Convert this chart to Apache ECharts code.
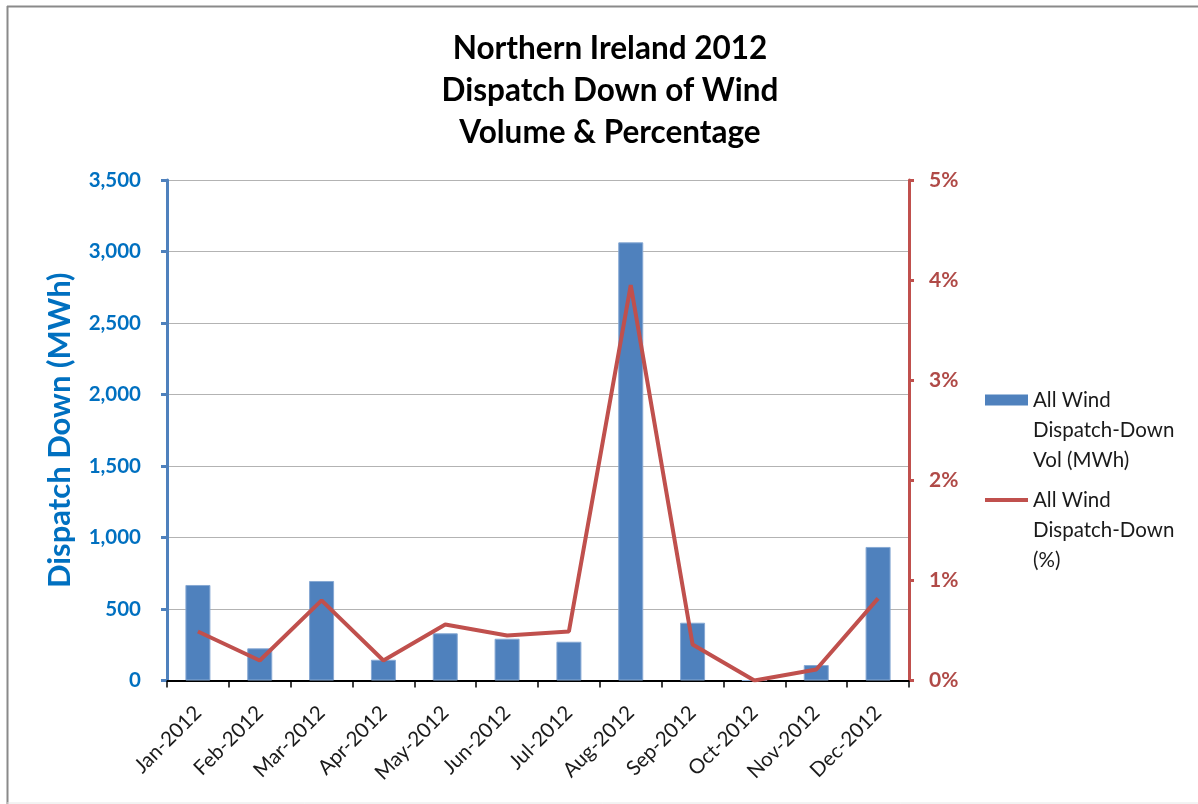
<!DOCTYPE html>
<html>
<head>
<meta charset="utf-8">
<script src="https://cdn.jsdelivr.net/npm/echarts@6/dist/echarts.min.js"></script>
<style>
  html, body { margin: 0; padding: 0; background: #fff; }
  #chart { width: 1198px; height: 804px; }
</style>
</head>
<body>
<div id="chart"></div>
<script>
// Monthly dispatch-down of wind, Northern Ireland 2012
const months = ['Jan-2012', 'Feb-2012', 'Mar-2012', 'Apr-2012', 'May-2012', 'Jun-2012',
                'Jul-2012', 'Aug-2012', 'Sep-2012', 'Oct-2012', 'Nov-2012', 'Dec-2012'];
const volumeMWh = [668, 225, 696, 145, 330, 292, 271, 3064, 404, 0, 108, 934];
const percentDown = [0.49, 0.20, 0.80, 0.20, 0.56, 0.45, 0.49, 3.95, 0.36, 0.00, 0.11, 0.82];
const volumeTicks = { min: 0, max: 3500, step: 500 };
const percentTicks = { min: 0, max: 5, step: 1 };

const FONT = 'Lato, "Open Sans", sans-serif';
const BLUE_TEXT = '#0070C0';
const BAR_BLUE = '#4F81BD';
const LINE_RED = '#C0504D';
const RED_TEXT = '#B04A47';

// Legend keys sit beside the first line of each three-line name; the
// zero-area sub-paths stretch the icon box to the full text height.
const LEGEND_LINE_H = 30;
const LEGEND_BLOCK_H = LEGEND_LINE_H * 3;
const barKey = 'path://M0,0L0.01,0M0,9.5L43,9.5L43,20.5L0,20.5ZM0,90L0.01,90';
const lineKey = 'path://M0,0L0.01,0M0,13L43,13L43,17L0,17ZM0,90L0.01,90';

const chart = echarts.init(document.getElementById('chart'), null, { renderer: 'canvas' });

chart.setOption({
  backgroundColor: '#ffffff',
  animation: false,
  textStyle: { fontFamily: FONT },
  title: {
    text: 'Northern Ireland 2012\nDispatch Down of Wind\nVolume & Percentage',
    left: 605,
    top: 23,
    textAlign: 'center',
    textStyle: {
      fontFamily: FONT,
      fontSize: 31.5,
      fontWeight: 'bold',
      color: '#000',
      lineHeight: 42
    }
  },
  grid: {
    left: 167,
    right: 1198 - 909,
    top: 180,
    bottom: 804 - 680.5,
    containLabel: false
  },
  legend: {
    orient: 'vertical',
    left: 985,
    top: 385,
    padding: 0,
    itemWidth: 43,
    itemHeight: LEGEND_BLOCK_H,
    itemGap: 10,
    symbolKeepAspect: false,
    itemStyle: { borderWidth: 0 },
    textStyle: {
      fontFamily: FONT,
      fontSize: 20.5,
      color: '#1a1a1a',
      lineHeight: LEGEND_LINE_H
    },
    data: [
      { name: 'All Wind\nDispatch-Down\nVol (MWh)', icon: barKey },
      { name: 'All Wind\nDispatch-Down\n(%)', icon: lineKey }
    ]
  },
  xAxis: {
    type: 'category',
    data: months,
    boundaryGap: true,
    axisLine: { show: true, lineStyle: { color: '#000', width: 2 } },
    axisTick: { show: true, alignWithLabel: false, length: 7, lineStyle: { color: '#000', width: 1.5 } },
    axisLabel: {
      rotate: 45,
      interval: 0,
      margin: 29,
      fontFamily: FONT,
      fontSize: 20.5,
      color: '#1a1a1a'
    },
    splitLine: { show: false }
  },
  yAxis: [
    {
      type: 'value',
      position: 'left',
      min: volumeTicks.min,
      max: volumeTicks.max,
      interval: volumeTicks.step,
      name: 'Dispatch Down (MWh)',
      nameLocation: 'middle',
      nameGap: 92,
      nameRotate: 90,
      nameTextStyle: {
        fontFamily: FONT,
        fontSize: 31,
        fontWeight: 'bold',
        color: BLUE_TEXT
      },
      axisLine: { show: true, lineStyle: { color: BAR_BLUE, width: 3 } },
      axisTick: { show: true, length: 6, inside: false, lineStyle: { color: BAR_BLUE, width: 3 } },
      axisLabel: {
        margin: 26,
        fontFamily: FONT,
        fontSize: 20.5,
        fontWeight: 'bold',
        color: BLUE_TEXT,
        formatter: v => v.toLocaleString('en-US')
      },
      splitLine: { show: true, lineStyle: { color: '#b3b3b3', width: 1.2 } }
    },
    {
      type: 'value',
      position: 'right',
      min: percentTicks.min,
      max: percentTicks.max,
      interval: percentTicks.step,
      axisLine: { show: true, lineStyle: { color: LINE_RED, width: 3 } },
      axisTick: { show: true, length: 5, lineStyle: { color: LINE_RED, width: 3 } },
      axisLabel: {
        margin: 20,
        fontFamily: FONT,
        fontSize: 21,
        fontWeight: 'bold',
        color: RED_TEXT,
        formatter: '{value}%'
      },
      splitLine: { show: false }
    }
  ],
  series: [
    {
      name: 'All Wind\nDispatch-Down\nVol (MWh)',
      type: 'bar',
      yAxisIndex: 0,
      data: volumeMWh,
      barWidth: 25,
      itemStyle: { color: BAR_BLUE, borderColor: '#86a8d3', borderWidth: 1 }
    },
    {
      name: 'All Wind\nDispatch-Down\n(%)',
      type: 'line',
      yAxisIndex: 1,
      data: percentDown,
      symbol: 'none',
      lineStyle: { color: LINE_RED, width: 4 },
      itemStyle: { color: LINE_RED },
      z: 3
    }
  ],
  graphic: [
    { type: 'line', shape: { x1: 7.5, y1: 6, x2: 7.5, y2: 804 }, style: { stroke: '#8a8a8a', lineWidth: 2 }, silent: true },
    { type: 'line', shape: { x1: 7, y1: 6.5, x2: 1198, y2: 6.5 }, style: { stroke: '#8a8a8a', lineWidth: 2 }, silent: true },
    { type: 'line', shape: { x1: 7, y1: 803, x2: 1198, y2: 803 }, style: { stroke: '#e6e6e6', lineWidth: 1 }, silent: true }
  ]
});
</script>
</body>
</html>
